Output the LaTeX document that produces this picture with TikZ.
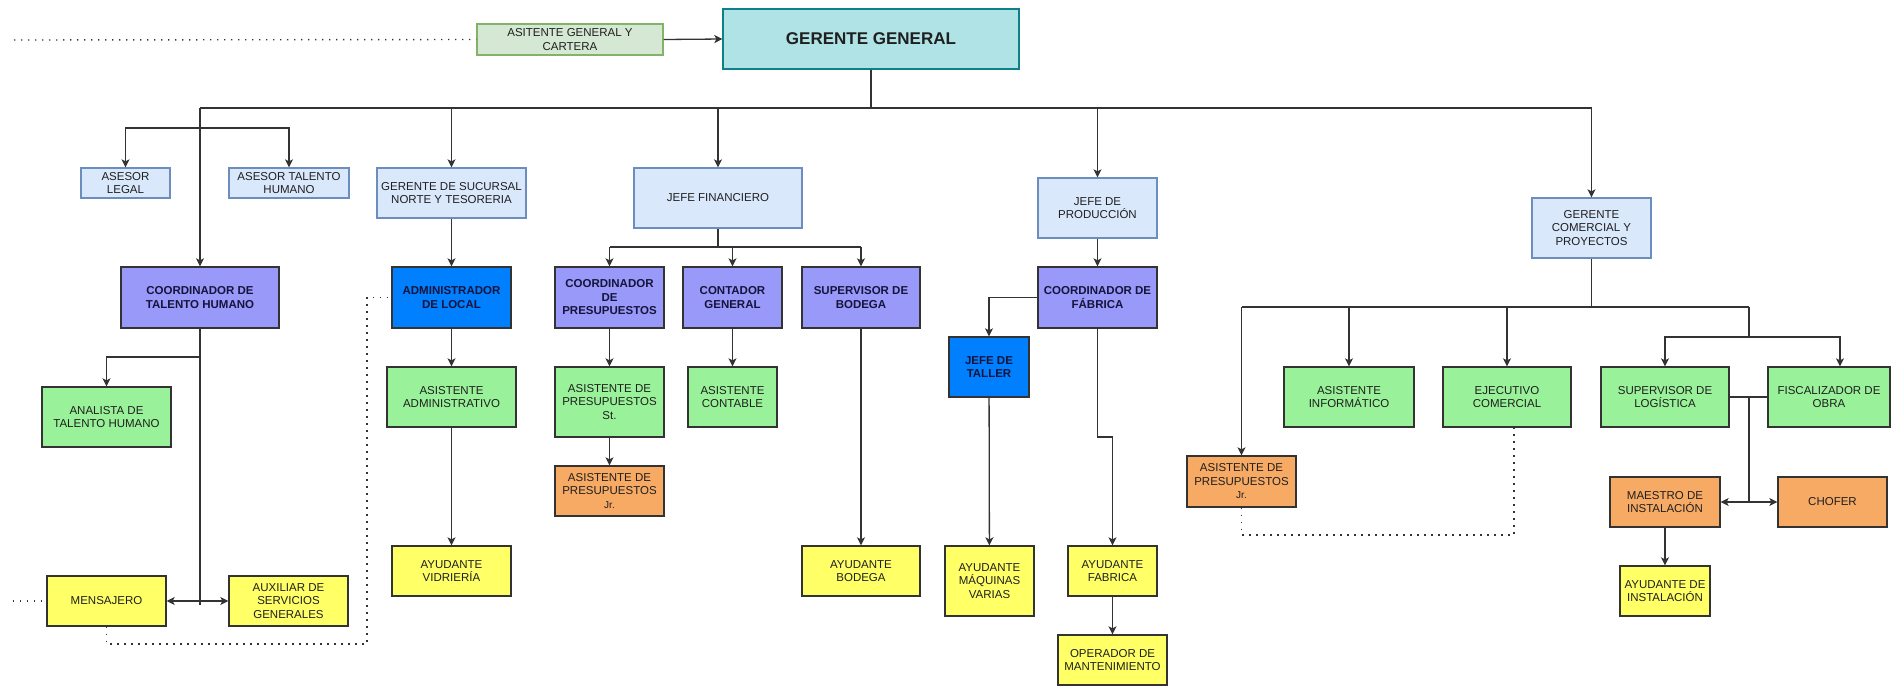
\documentclass[tikz,border=0pt]{standalone}
\usepackage{fontspec}
\setmainfont{Liberation Sans}
\usetikzlibrary{arrows.meta}
\definecolor{ggfill}{HTML}{B0E3E6}
\definecolor{ggdraw}{HTML}{0E8088}
\definecolor{lbfill}{HTML}{DAE8FC}
\definecolor{lbdraw}{HTML}{6C8EBF}
\definecolor{agfill}{HTML}{D5E8D4}
\definecolor{agdraw}{HTML}{82B366}
\definecolor{pufill}{RGB}{153,153,250}
\definecolor{bbfill}{RGB}{0,127,255}
\definecolor{grfill}{RGB}{153,242,153}
\definecolor{orfill}{RGB}{247,170,100}
\definecolor{yefill}{RGB}{255,255,102}
\definecolor{dk}{HTML}{333333}
\definecolor{navy}{HTML}{14143C}
\tikzset{
  x=1pt, y=-1pt,
  base/.style={rectangle, draw=dk, line width=1.3pt, inner sep=0pt, align=center,
    text=black!88, font=\fontsize{11.5}{13.5}\selectfont},
  lblue/.style={base, fill=lbfill, draw=lbdraw},
  purp/.style={base, fill=pufill, text=navy, font=\fontsize{11.5}{13.5}\selectfont\bfseries},
  bblue/.style={base, fill=bbfill, text=navy, font=\fontsize{11.5}{13.5}\selectfont\bfseries},
  grn/.style={base, fill=grfill},
  orng/.style={base, fill=orfill},
  yell/.style={base, fill=yefill},
  ln/.style={draw=dk, line width=1.3pt},
  arr/.style={ln, -{Stealth[length=8pt,width=8pt,inset=2pt]}},
  darr/.style={ln, {Stealth[length=8pt,width=8pt,inset=2pt]}-{Stealth[length=8pt,width=8pt,inset=2pt]}},
  dotl/.style={draw=dk, line width=1.4pt, dash pattern=on 1.4pt off 5.6pt},
}
\newcommand\bx[7]{\node[#1, minimum width=#4pt, minimum height=#5pt] (#6) at (#2,#3) {#7};}
\begin{document}
\begin{tikzpicture}
\useasboundingbox (0,0) rectangle (1891,686);
\fill[white] (0,0) rectangle (1891,686);
% top
\bx{base, fill=agfill, draw=agdraw}{570}{39.5}{186}{31}{asist}{ASITENTE GENERAL Y\\CARTERA}
\bx{base, fill=ggfill, draw=ggdraw, font=\fontsize{17}{20}\selectfont\bfseries}{871}{39}{296}{60}{gg}{GERENTE GENERAL}
% row 2
\bx{lblue}{125.5}{183}{89}{30}{asesorLegal}{ASESOR\\LEGAL}
\bx{lblue}{289}{183}{120}{30}{asesorTH}{ASESOR TALENTO\\HUMANO}
\bx{lblue}{451.5}{193}{149}{50}{gerSuc}{GERENTE DE SUCURSAL\\NORTE Y TESORERIA}
\bx{lblue}{718}{198}{168}{60}{jefeFin}{JEFE FINANCIERO}
\bx{lblue}{1097.5}{208}{119}{60}{jefeProd}{JEFE DE\\PRODUCCIÓN}
\bx{lblue}{1591.5}{228}{119}{60}{gerCom}{GERENTE\\COMERCIAL Y\\PROYECTOS}
% row 3
\bx{purp}{200}{297.5}{158}{61}{coordTH}{COORDINADOR DE\\TALENTO HUMANO}
\bx{bblue}{451.5}{297.5}{119}{61}{admin}{ADMINISTRADOR\\DE LOCAL}
\bx{purp}{609.5}{297.5}{109}{61}{coordPres}{COORDINADOR\\DE\\PRESUPUESTOS}
\bx{purp}{732.5}{297.5}{99}{61}{contador}{CONTADOR\\GENERAL}
\bx{purp}{861}{297.5}{118}{61}{supBod}{SUPERVISOR DE\\BODEGA}
\bx{purp}{1097.5}{297.5}{119}{61}{coordFab}{COORDINADOR DE\\FÁBRICA}
\bx{bblue}{989}{367}{80}{60}{jefeTaller}{JEFE DE\\TALLER}
% row 4
\bx{grn}{106.5}{417}{129}{60}{analista}{ANALISTA DE\\TALENTO HUMANO}
\bx{grn}{451.5}{397}{129}{60}{asistAdm}{ASISTENTE\\ADMINISTRATIVO}
\bx{grn}{609.5}{402}{109}{70}{asistPresSt}{ASISTENTE DE\\PRESUPUESTOS\\St.}
\bx{grn}{732.5}{397}{89}{60}{asistCont}{ASISTENTE\\CONTABLE}
\bx{grn}{1349}{397}{130}{60}{asistInf}{ASISTENTE\\INFORMÁTICO}
\bx{grn}{1507}{397}{128}{60}{ejec}{EJECUTIVO\\COMERCIAL}
\bx{grn}{1665}{397}{128}{60}{supLog}{SUPERVISOR DE\\LOGÍSTICA}
\bx{grn}{1829}{397}{122}{60}{fisc}{FISCALIZADOR DE\\OBRA}
% orange
\bx{orng}{609.5}{491}{109}{50}{asistPresJrL}{ASISTENTE DE\\PRESUPUESTOS\\{\fontsize{10}{11}\selectfont Jr.}}
\bx{orng}{1241.5}{481.5}{109}{51}{asistPresJrR}{ASISTENTE DE\\PRESUPUESTOS\\{\fontsize{10}{11}\selectfont Jr.}}
\bx{orng}{1665}{502}{110}{50}{maestro}{MAESTRO DE\\INSTALACIÓN}
\bx{orng}{1832.5}{502}{109}{50}{chofer}{CHOFER}
% yellow
\bx{yell}{106.5}{601}{119}{50}{mensajero}{MENSAJERO}
\bx{yell}{288.5}{601}{119}{50}{auxiliar}{AUXILIAR DE\\SERVICIOS\\GENERALES}
\bx{yell}{451.5}{571}{119}{50}{ayVid}{AYUDANTE\\VIDRIERÍA}
\bx{yell}{861}{571}{118}{50}{ayBod}{AYUDANTE\\BODEGA}
\bx{yell}{989.5}{581}{89}{70}{ayMaq}{AYUDANTE\\MÁQUINAS\\VARIAS}
\bx{yell}{1112.5}{571}{89}{50}{ayFab}{AYUDANTE\\FABRICA}
\bx{yell}{1112.5}{660}{109}{50}{operador}{OPERADOR DE\\MANTENIMIENTO}
\bx{yell}{1665}{591}{90}{50}{ayInst}{AYUDANTE DE\\INSTALACIÓN}
% top connectors
\draw[arr] (asist.east) -- (gg.west);
\coordinate (dl1) at (14,40);
\draw[dotl] (dl1) -- (asist.west);
\coordinate (b0) at (871,108);
\draw[ln] (gg.south) -- (b0);
\coordinate (busL) at (coordTH.north |- b0);
\coordinate (busR) at (gerCom.north |- b0);
\draw[ln] (busL) -- (busR);
\draw[arr] (busL) -- (coordTH.north);
\draw[arr] (gerSuc.north |- b0) -- (gerSuc.north);
\draw[arr] (jefeFin.north |- b0) -- (jefeFin.north);
\draw[arr] (jefeProd.north |- b0) -- (jefeProd.north);
\draw[arr] (busR) -- (gerCom.north);
% asesores
\coordinate (as) at (200,128);
\draw[arr] (as) -| (asesorLegal.north);
\draw[arr] (as) -| (asesorTH.north);
% talento humano
\coordinate (th1) at (coordTH.south |- 0,357);
\coordinate (th2) at (coordTH.south |- mensajero.east);
\draw[ln] (coordTH.south) -- ([yshift=-4pt]th2);
\draw[arr] (th1) -| (analista.north);
\draw[arr] (th2) -- (mensajero.east);
\draw[arr] (th2) -- (auxiliar.west);
\coordinate (dl2) at (13,601);
\draw[dotl] (dl2) -- (mensajero.west);
\coordinate (dc1) at (367,644);
\draw[dotl] (mensajero.south) |- (dc1) |- (admin.west);
% sucursal
\draw[arr] (gerSuc) -- (admin);
\draw[arr] (admin) -- (asistAdm);
\draw[arr] (asistAdm) -- (ayVid);
% financiero
\coordinate (jf) at (jefeFin.south |- 0,247);
\draw[ln] (jefeFin.south) -- (jf);
\draw[ln] (coordPres.north |- jf) -- (supBod.north |- jf);
\draw[arr] (coordPres.north |- jf) -- (coordPres.north);
\draw[arr] (contador.north |- jf) -- (contador.north);
\draw[arr] (supBod.north |- jf) -- (supBod.north);
\draw[arr] (coordPres) -- (asistPresSt);
\draw[arr] (asistPresSt) -- (asistPresJrL);
\draw[arr] (contador) -- (asistCont);
\draw[arr] (supBod) -- (ayBod);
% produccion
\draw[arr] (jefeProd) -- (coordFab);
\draw[arr] (coordFab.west) -| (jefeTaller.north);
\draw[arr] (jefeTaller) -- (ayMaq);
\coordinate (pf) at (coordFab.south |- 0,437);
\draw[arr] (coordFab.south) -- (pf) -| (ayFab.north);
\draw[arr] (ayFab) -- (operador);
% comercial
\coordinate (cb) at (gerCom.south |- 0,307);
\coordinate (cbR) at (1749,307);
\draw[ln] (gerCom.south) -- (cb);
\draw[ln] (asistPresJrR.north |- cb) -- (cbR);
\draw[arr] (asistPresJrR.north |- cb) -- (asistPresJrR.north);
\draw[arr] (asistInf.north |- cb) -- (asistInf.north);
\draw[arr] (ejec.north |- cb) -- (ejec.north);
\coordinate (lg) at (1749,337);
\draw[ln] (cbR) -- (lg);
\draw[arr] (lg) -| (supLog.north);
\draw[arr] (lg) -| ([xshift=11pt]fisc.north);
\draw[ln] (supLog.east) -- (fisc.west);
\coordinate (lj) at (1749,397);
\coordinate (lk) at (1749,502);
\draw[ln] (lj) -- (lk);
\draw[arr] (lk) -- (maestro.east);
\draw[arr] (lk) -- (chofer.west);
\draw[arr] (maestro) -- (ayInst);
\coordinate (dc2) at (1514,535);
\draw[dotl] (asistPresJrR.south) |- (dc2) -- (ejec.south -| dc2);
\end{tikzpicture}
\end{document}
